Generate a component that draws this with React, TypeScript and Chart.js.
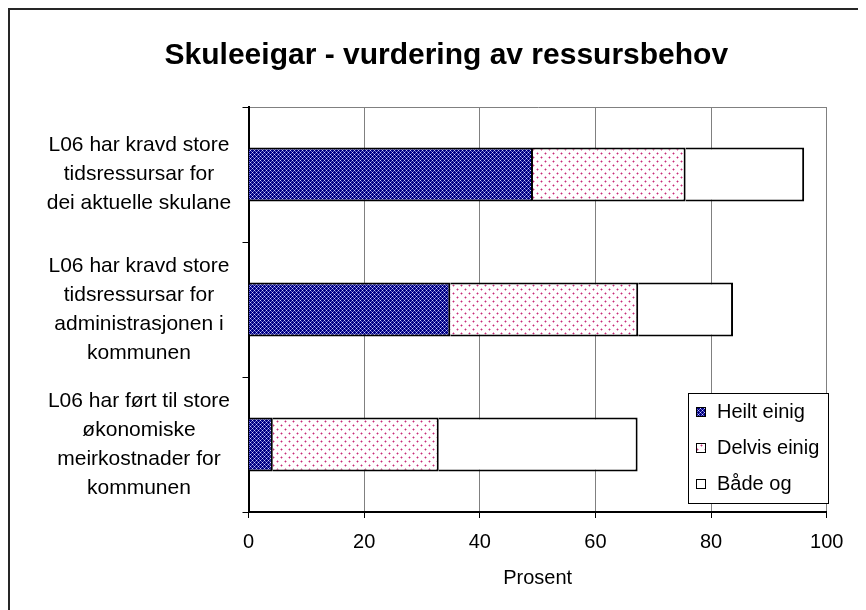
import React, { useEffect, useRef } from "react";
import { Chart, registerables } from "chart.js";

Chart.register(...registerables);

const TITLE = "Skuleeigar - vurdering av ressursbehov";
const X_TITLE = "Prosent";
const categories: string[][] = [
  ["L06 har kravd store", "tidsressursar for", "dei aktuelle skulane"],
  ["L06 har kravd store", "tidsressursar for", "administrasjonen i", "kommunen"],
  ["L06 har ført til store", "økonomiske", "meirkostnader for", "kommunen"],
];
const seriesNames = ["Heilt einig", "Delvis einig", "Både og"];
const heiltEinig = [49.2, 34.9, 4.2];
const delvisEinig = [26.4, 32.5, 28.7];
const badeOg = [20.5, 16.4, 34.4];
const xMin = 0;
const xMax = 100;
const xStep = 20;

const FONT = '"Liberation Sans", Arial, Helvetica, sans-serif';

function makePattern(size: number, draw: (g: CanvasRenderingContext2D) => void): CanvasPattern {
  const c = document.createElement("canvas");
  c.width = size;
  c.height = size;
  const g = c.getContext("2d")!;
  draw(g);
  return g.createPattern(c, "repeat")!;
}

const framePlugin = {
  id: "frame",
  afterLayout(chart: any) {
    // let the category labels use the whole left margin (no clipping)
    const y = chart.scales.y;
    if (y) {
      y.left = 0;
      y.width = y.right;
    }
  },
  beforeDraw(chart: any) {
    const { ctx, width, height } = chart;
    ctx.save();
    ctx.fillStyle = "#ffffff";
    ctx.fillRect(0, 0, width, height);
    ctx.restore();
  },
  afterDraw(chart: any) {
    const { ctx, width, height } = chart;
    ctx.save();
    ctx.fillStyle = "#262626";
    ctx.fillRect(0, 0, width, 2);
    ctx.fillRect(0, 0, 2, height);
    ctx.restore();
  },
};

const legendPlugin = {
  id: "insideLegend",
  afterDraw(chart: any) {
    const { ctx, chartArea: ca } = chart;
    const w = 140;
    const h = 110;
    const left = Math.round(ca.right + 1.5 - w);
    const top = Math.round(ca.bottom - 9 - h);
    ctx.save();
    ctx.fillStyle = "#ffffff";
    ctx.fillRect(left, top, w, h);
    ctx.strokeStyle = "#000000";
    ctx.lineWidth = 1;
    ctx.strokeRect(left + 0.5, top + 0.5, w, h);
    ctx.font = `20px ${FONT}`;
    ctx.textBaseline = "middle";
    chart.data.datasets.forEach((ds: any, i: number) => {
      const cy = top + 19 + i * 36;
      const mx = Math.round(left + 8);
      const my = Math.round(cy - 5);
      ctx.fillStyle = ds.backgroundColor;
      ctx.fillRect(mx, my, 10, 10);
      ctx.strokeStyle = "#000000";
      ctx.strokeRect(mx + 0.5, my + 0.5, 9, 9);
      ctx.fillStyle = "#000000";
      ctx.fillText(ds.label, left + 29, cy);
    });
    ctx.restore();
  },
};

export default function App() {
  const ref = useRef<HTMLCanvasElement>(null);
  useEffect(() => {
    document.documentElement.style.overflow = "hidden";
    document.body.style.overflow = "hidden";
    const canvas = ref.current!;
    const heiltPat = makePattern(4, (g) => {
      g.fillStyle = "#000080";
      g.fillRect(0, 0, 4, 4);
      g.fillStyle = "#ccccff";
      g.fillRect(0, 0, 1, 1);
      g.fillRect(2, 2, 1, 1);
      g.fillStyle = "#6666cc";
      g.fillRect(1, 1, 1, 1);
      g.fillRect(3, 3, 1, 1);
      g.fillRect(1, 3, 1, 1);
      g.fillRect(3, 1, 1, 1);
    });
    const delvisPat = makePattern(8, (g) => {
      g.fillStyle = "#ffffff";
      g.fillRect(0, 0, 8, 8);
      const dot = (x: number, y: number) => {
        g.fillStyle = "#eaa0c4";
        g.fillRect(x - 1, y, 1, 1);
        g.fillRect(x + 1, y, 1, 1);
        g.fillRect(x, y - 1, 1, 1);
        g.fillRect(x, y + 1, 1, 1);
        g.fillStyle = "#c03078";
        g.fillRect(x, y, 1, 1);
      };
      dot(1, 1);
      dot(5, 5);
    });

    const chart = new Chart(canvas, {
      type: "bar",
      data: {
        labels: categories,
        datasets: [
          { label: seriesNames[0], data: heiltEinig, backgroundColor: heiltPat, borderColor: "#000000", borderWidth: 2 },
          { label: seriesNames[1], data: delvisEinig, backgroundColor: delvisPat, borderColor: "#000000", borderWidth: 2 },
          { label: seriesNames[2], data: badeOg, backgroundColor: "#ffffff", borderColor: "#000000", borderWidth: 2 },
        ],
      },
      options: {
        indexAxis: "y",
        responsive: false,
        animation: false,
        layout: { padding: { left: 58, right: 39.3, top: 0, bottom: 0 } },
        datasets: { bar: { barPercentage: 0.4, categoryPercentage: 1 } },
        plugins: {
          legend: { display: false },
          tooltip: { enabled: false },
          title: {
            display: true,
            text: TITLE,
            color: "#000000",
            font: { family: FONT, size: 30, weight: "bold", lineHeight: 1.2 },
            padding: { top: 29.4, bottom: 33.6 },
          },
        },
        scales: {
          x: {
            stacked: true,
            min: xMin,
            max: xMax,
            ticks: { stepSize: xStep, color: "#000000", font: { family: FONT, size: 20 }, padding: 12 },
            grid: { color: "#808080", lineWidth: 1, tickColor: "#000000", tickLength: 6 },
            border: { color: "#000000", width: 2 },
            title: {
              display: true,
              text: X_TITLE,
              color: "#000000",
              font: { family: FONT, size: 20 },
              padding: { top: 0, bottom: 20 },
            },
            afterFit: (s: any) => {
              s.height = 98;
            },
          },
          y: {
            stacked: true,
            ticks: {
              color: "#000000",
              font: { family: FONT, size: 21, lineHeight: 1.38 },
              padding: 11.3,
              crossAlign: "center",
              autoSkip: false,
            },
            grid: {
              offset: true,
              drawOnChartArea: true,
              color: (c: any) => (c.index === 0 ? "#808080" : "rgba(0,0,0,0)"),
              tickColor: "#000000",
              tickLength: 6,
            },
            border: { color: "#000000", width: 2 },
            afterFit: (s: any) => {
              s.width = 182.5;
            },
          },
        },
      } as any,
      plugins: [framePlugin, legendPlugin],
    });
    return () => chart.destroy();
  }, []);
  return (
    <div style={{ width: 858, height: 602 }}>
      <canvas ref={ref} width={858} height={602} style={{ display: "block", width: 858, height: 602 }} />
    </div>
  );
}
